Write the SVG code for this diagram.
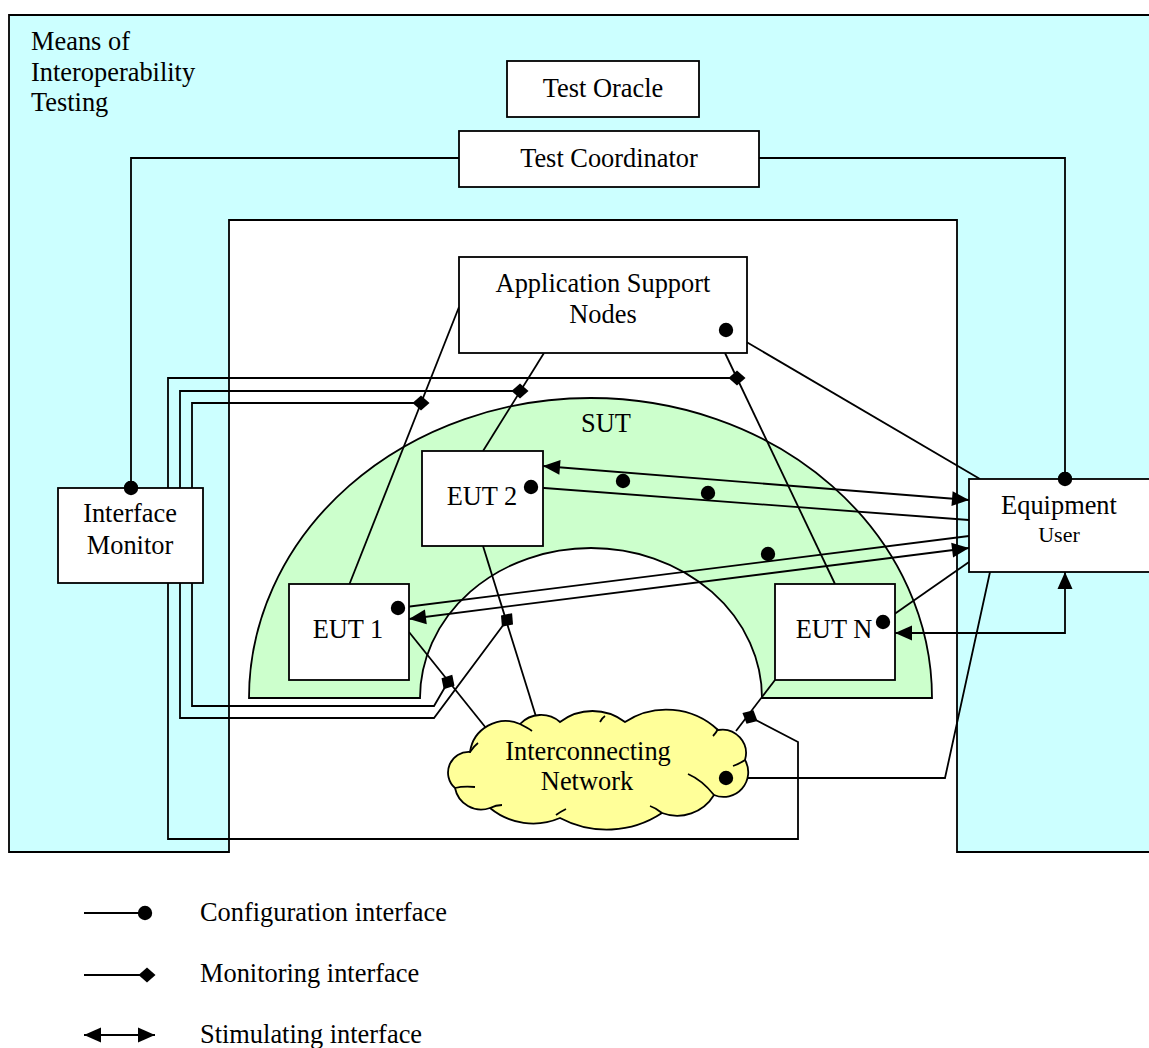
<svg xmlns="http://www.w3.org/2000/svg" width="1149" height="1048" viewBox="0 0 1149 1048">
<style>
text{font-family:"Liberation Serif","Times New Roman",serif;font-size:26.4px;fill:#000}
.c{text-anchor:middle}
.box{fill:#fff;stroke:#000;stroke-width:1.8}
.ln{fill:none;stroke:#000;stroke-width:1.8}
.cfg{marker-end:url(#dot)}
.mon{marker-end:url(#dia)}
.sti{marker-start:url(#arr);marker-end:url(#arr)}
.fd{fill:#000}
</style>
<defs>
<marker id="dot" markerUnits="userSpaceOnUse" viewBox="-9 -9 18 18" markerWidth="18" markerHeight="18" refX="0" refY="0" orient="auto"><circle r="7.2" fill="#000"/></marker>
<marker id="dia" markerUnits="userSpaceOnUse" viewBox="-10 -10 20 20" markerWidth="20" markerHeight="20" refX="0" refY="0" orient="auto"><path d="M-8.5,0 L0,-7.5 L8.5,0 L0,7.5 Z" fill="#000"/></marker>
<marker id="arr" markerUnits="userSpaceOnUse" viewBox="-20 -10 22 20" markerWidth="22" markerHeight="20" refX="0" refY="0" orient="auto-start-reverse"><path d="M0,0 L-17,-7.5 L-17,7.5 Z" fill="#000"/></marker>
</defs>

<g id="means-of-testing">
<path d="M9,15 H1152 V852 H957 V220 H229 V852 H9 Z" fill="#CCFFFF" stroke="#000" stroke-width="1.8"/>
<text x="31" y="50">Means of</text>
<text x="31" y="80.5">Interoperability</text>
<text x="31" y="111">Testing</text>
</g>

<g id="sut">
<path d="M249,698 A341.5,300 0 0 1 932,698 H762 A171,150 0 0 0 420,698 Z" fill="#CCFFCC" stroke="#000" stroke-width="1.8"/>
<text class="c" x="606" y="432">SUT</text>
</g>

<g id="connectors">
<!-- configuration -->
<path class="ln cfg" d="M459,158 H131 V488"/>
<path class="ln cfg" d="M759,158 H1065 V479"/>
<path class="ln cfg" d="M980,479 L726,330"/>
<path class="ln cfg" d="M969,520 L531,487"/>
<path class="ln cfg" d="M969,536 L398,608"/>
<path class="ln cfg" d="M969,562 L883,622"/>
<path class="ln cfg" d="M990,572 L945,778 H726"/>
<circle class="fd" cx="623" cy="481" r="7.2"/>
<circle class="fd" cx="708" cy="493" r="7.2"/>
<circle class="fd" cx="768" cy="554" r="7.2"/>
<!-- monitoring -->
<path class="ln mon" d="M168,488 V378 H737"/>
<path class="ln mon" d="M180,488 V391 H520"/>
<path class="ln mon" d="M192,488 V403 H421"/>
<path class="ln mon" d="M168,583 V839 H798 V742 L750,717"/>
<path class="ln mon" d="M180,583 V718 H434 L507,620"/>
<path class="ln mon" d="M192,583 V706 H434 L448,682"/>
<!-- plain links -->
<path class="ln" d="M459,307 L349.5,584"/>
<path class="ln" d="M544,353 L483,451"/>
<path class="ln" d="M725,353 L835,584"/>
<path class="ln" d="M483,546 L538,723"/>
<path class="ln" d="M409,632 L486,728"/>
<path class="ln" d="M775,680 L736,731"/>
<!-- stimulating -->
<path class="ln sti" d="M543,466 L969,500"/>
<path class="ln sti" d="M969,548 L409,619"/>
<path class="ln sti" d="M895,633 H1065 V572"/>
</g>

<g id="test-oracle"><rect class="box" x="507" y="61" width="192" height="56"/><text class="c" x="603" y="97">Test Oracle</text></g>
<g id="test-coordinator"><rect class="box" x="459" y="131" width="300" height="56"/><text class="c" x="609" y="167">Test Coordinator</text></g>
<g id="application-support-nodes"><rect class="box" x="459" y="257" width="288" height="96"/><text class="c" x="603" y="292">Application Support</text><text class="c" x="603" y="323">Nodes</text><circle class="fd" cx="726" cy="330" r="7.2"/></g>
<g id="interface-monitor"><rect class="box" x="58" y="488" width="145" height="95"/><text class="c" x="130" y="522">Interface</text><text class="c" x="130" y="554">Monitor</text><circle class="fd" cx="131" cy="488" r="7.2"/></g>
<g id="equipment-user"><rect class="box" x="969" y="479" width="190" height="93"/><text class="c" x="1059" y="514">Equipment</text><text class="c" x="1059" y="542" style="font-size:22px">User</text><circle class="fd" cx="1065" cy="479" r="7.2"/></g>
<g id="eut2"><rect class="box" x="422" y="451" width="121" height="95"/><text class="c" x="482" y="505">EUT 2</text><circle class="fd" cx="531" cy="487" r="7.2"/></g>
<g id="eut1"><rect class="box" x="289" y="584" width="120" height="96"/><text class="c" x="348" y="638">EUT 1</text><circle class="fd" cx="398" cy="608" r="7.2"/></g>
<g id="eutn"><rect class="box" x="775" y="584" width="120" height="96"/><text class="c" x="834" y="638">EUT N</text><circle class="fd" cx="883" cy="622" r="7.2"/></g>

<g id="interconnecting-network">
<path d="M470,752 A36,36 0 0 1 520,724 A29,29 0 0 1 560,722 A53.5,53.5 0 0 1 625,722 A75.6,75.6 0 0 1 718,730 A23.7,23.7 0 0 1 745,760 A24.7,24.7 0 0 1 714,795 A43,43 0 0 1 662,813 A100,100 0 0 1 560,818 A68,68 0 0 1 490,808 A26.7,26.7 0 0 1 455,788 A20.6,20.6 0 0 1 470,752 Z" fill="#FFFF99" stroke="#000" stroke-width="1.8"/>
<path class="ln" d="M470,752 Q474,746 478,743 M520,724 Q528,728 532,731 M600,722 Q602,718 605,716 M718,729 Q716,733 713,736 M745,760 Q739,764 733,766 M688,774 Q702,780 714,795 M662,813 Q656,808 650,806 M556,815 Q560,812 566,809 M490,808 Q496,805 502,805 M455,788 Q463,786 475,787"/>
<text class="c" x="588" y="760">Interconnecting</text>
<text class="c" x="587" y="790">Network</text>
<circle class="fd" cx="726" cy="778" r="7.2"/>
</g>

<g id="legend">
<path class="ln cfg" d="M84,913 H145"/>
<text x="200" y="921">Configuration interface</text>
<path class="ln mon" d="M84,975 H147"/>
<text x="200" y="982">Monitoring interface</text>
<path class="ln sti" d="M84,1035 H155"/>
<text x="200" y="1043">Stimulating interface</text>
</g>
</svg>
